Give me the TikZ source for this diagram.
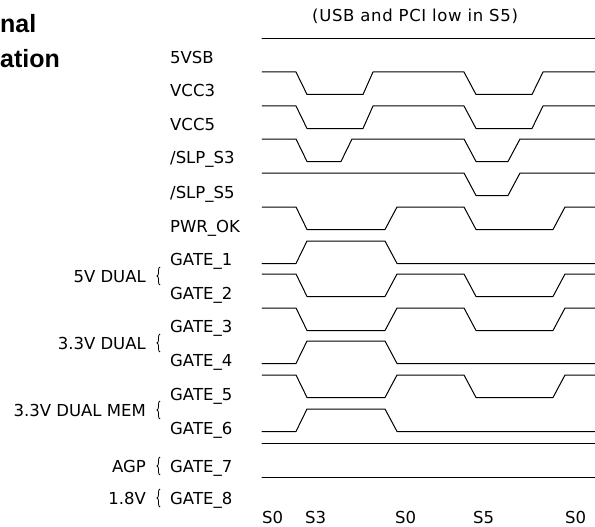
\documentclass[tikz,border=0pt]{standalone}
\usepackage{fontspec}
\setmainfont{DejaVu Sans}
\newfontfamily\headfont{Liberation Sans}
\usetikzlibrary{decorations.pathreplacing}
\begin{document}
\begin{tikzpicture}[x=1pt,y=-1pt,
  sig/.style={line width=1pt, line join=round, line cap=round},
  lbl/.style={anchor=base west, inner sep=0pt, font=\fontsize{16.5}{19}\selectfont},
  grp/.style={anchor=base east, inner sep=0pt, font=\fontsize{16.5}{19}\selectfont},
  head/.style={anchor=base west, inner sep=0pt, font=\headfont\bfseries\fontsize{25}{30}\selectfont},
  brc/.style={decorate, decoration={brace, amplitude=3pt}, line width=0.8pt}]
\useasboundingbox (0,0) rectangle (595,527);
% heading (left edge of the page)
\node[head] (h1) at (0,33) {nal};
\node[head] (h2) at (0,68) {ation};
% title
\node[lbl, font=\fontsize{16.5}{19}\selectfont\addfontfeature{LetterSpace=4}] (title) at (312,22) {(USB and PCI low in S5)};
% signal labels
\node[lbl] (l5vsb) at (170,64) {5VSB};
\node[lbl] (lvcc3) at (170,97) {VCC3};
\node[lbl] (lvcc5) at (170,130) {VCC5};
\node[lbl] (lslp3) at (170,164) {/SLP\_S3};
\node[lbl] (lslp5) at (170,198) {/SLP\_S5};
\node[lbl] (lpwr) at (170,232) {PWR\_OK};
\node[lbl] (lg1) at (170,265) {GATE\_1};
\node[lbl] (lg2) at (170,299) {GATE\_2};
\node[lbl] (lg3) at (170,332) {GATE\_3};
\node[lbl] (lg4) at (170,366) {GATE\_4};
\node[lbl] (lg5) at (170,400) {GATE\_5};
\node[lbl] (lg6) at (170,434) {GATE\_6};
\node[lbl] (lg7) at (170,472) {GATE\_7};
\node[lbl] (lg8) at (170,504) {GATE\_8};
% group labels with braces
\node[grp] (g5v) at (146,282) {5V DUAL};
\node[grp] (g33) at (146,349) {3.3V DUAL};
\node[grp] (g33m) at (146,416) {3.3V DUAL MEM};
\node[grp] (gagp) at (146,472) {AGP};
\node[grp] (g18) at (146,504) {1.8V};
\draw[brc] (160,285) -- (160,267);
\draw[brc] (160,352) -- (160,334);
\draw[brc] (160,419) -- (160,401);
\draw[brc] (160,475) -- (160,457);
\draw[brc] (160,507) -- (160,489);
% states
\node[lbl] (s0a) at (262,523) {S0};
\node[lbl] (s3) at (305,523) {S3};
\node[lbl] (s0b) at (395,523) {S0};
\node[lbl] (s5) at (473,523) {S5};
\node[lbl] (s0c) at (565,523) {S0};
% waveforms
\draw[sig] (262,39) -- (595,39);
\draw[sig] (262,72) -- (296,72) -- (307,94.5) -- (363,94.5) -- (373,72) -- (464,72) -- (476,94.5) -- (532,94.5) -- (543,72) -- (595,72);
\draw[sig] (262,106) -- (296,106) -- (307,128.5) -- (363,128.5) -- (373,106) -- (464,106) -- (476,128.5) -- (532,128.5) -- (543,106) -- (595,106);
\draw[sig] (262,139) -- (296,139) -- (307,161.5) -- (341,161.5) -- (352,139) -- (464,139) -- (476,161.5) -- (508,161.5) -- (520,139) -- (595,139);
\draw[sig] (262,173) -- (464,173) -- (476,195.5) -- (508,195.5) -- (520,173) -- (595,173);
\draw[sig] (262,207) -- (296,207) -- (307,229.5) -- (385,229.5) -- (397,207) -- (464,207) -- (476,229.5) -- (553,229.5) -- (565,207) -- (595,207);
\draw[sig] (262,263.5) -- (296,263.5) -- (307,241) -- (385,241) -- (397,263.5) -- (595,263.5);
\draw[sig] (262,274) -- (296,274) -- (307,296.5) -- (385,296.5) -- (397,274) -- (464,274) -- (476,296.5) -- (553,296.5) -- (565,274) -- (595,274);
\draw[sig] (262,308) -- (296,308) -- (307,330.5) -- (385,330.5) -- (397,308) -- (464,308) -- (476,330.5) -- (553,330.5) -- (565,308) -- (595,308);
\draw[sig] (262,363.5) -- (296,363.5) -- (307,341) -- (385,341) -- (397,363.5) -- (595,363.5);
\draw[sig] (262,375) -- (296,375) -- (307,397.5) -- (385,397.5) -- (397,375) -- (464,375) -- (476,397.5) -- (553,397.5) -- (565,375) -- (595,375);
\draw[sig] (262,431.5) -- (296,431.5) -- (307,409) -- (385,409) -- (397,431.5) -- (595,431.5);
\draw[sig] (262,443) -- (595,443);
\draw[sig] (262,477) -- (595,477);
\end{tikzpicture}
\end{document}
